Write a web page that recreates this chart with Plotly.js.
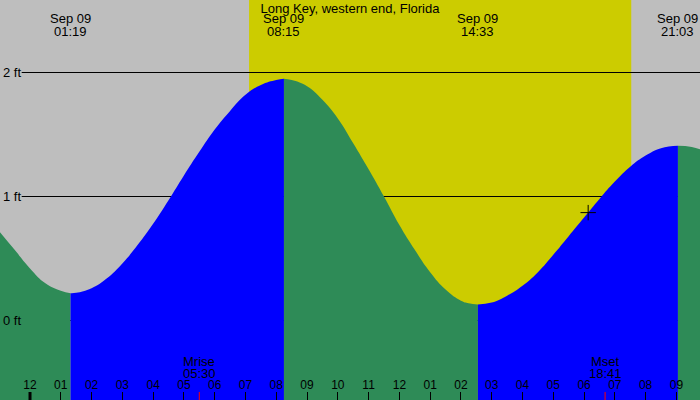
<!DOCTYPE html>
<html>
<head>
<meta charset="utf-8">
<script src="https://cdn.plot.ly/plotly-3.0.1.min.js"></script>
<style>
  html, body { margin: 0; padding: 0; background: #fff; }
  #plot { width: 700px; height: 400px; }
</style>
</head>
<body>
<div id="plot"></div>
<script>
// tide height (ft), every half hour plus the turning points
const tideTimes = [
    '2024-09-08 23:00', '2024-09-08 23:30', '2024-09-09 00:00', '2024-09-09 00:30',
    '2024-09-09 01:00', '2024-09-09 01:19', '2024-09-09 01:30', '2024-09-09 02:00',
    '2024-09-09 02:30', '2024-09-09 03:00', '2024-09-09 03:30', '2024-09-09 04:00',
    '2024-09-09 04:30', '2024-09-09 05:00', '2024-09-09 05:30', '2024-09-09 06:00',
    '2024-09-09 06:30', '2024-09-09 07:00', '2024-09-09 07:30', '2024-09-09 08:00',
    '2024-09-09 08:15', '2024-09-09 08:30', '2024-09-09 09:00', '2024-09-09 09:30',
    '2024-09-09 10:00', '2024-09-09 10:30', '2024-09-09 11:00', '2024-09-09 11:30',
    '2024-09-09 12:00', '2024-09-09 12:30', '2024-09-09 13:00', '2024-09-09 13:30',
    '2024-09-09 14:00', '2024-09-09 14:15', '2024-09-09 14:33', '2024-09-09 15:00',
    '2024-09-09 15:30', '2024-09-09 16:00', '2024-09-09 16:30', '2024-09-09 17:00',
    '2024-09-09 17:30', '2024-09-09 18:00', '2024-09-09 18:30', '2024-09-09 19:00',
    '2024-09-09 19:30', '2024-09-09 20:00', '2024-09-09 20:30', '2024-09-09 21:03',
    '2024-09-09 21:30', '2024-09-09 22:00'
];
const tideHeights = [
    0.72, 0.57, 0.42, 0.30,
    0.24, 0.22, 0.223, 0.26,
    0.34, 0.46, 0.61, 0.78,
    0.97, 1.17, 1.36, 1.54,
    1.69, 1.82, 1.90, 1.94,
    1.95, 1.94, 1.89, 1.78,
    1.63, 1.43, 1.22, 1.00,
    0.77, 0.57, 0.39, 0.25,
    0.16, 0.14, 0.13, 0.145,
    0.20, 0.28, 0.39, 0.53,
    0.68, 0.83, 0.98, 1.12,
    1.24, 1.33, 1.39, 1.41,
    1.40, 1.36
];

// high / low water labels along the top
const extremeTimes = ['2024-09-09 01:19', '2024-09-09 08:15', '2024-09-09 14:33', '2024-09-09 21:03'];
const extremeDates = ['Sep 09', 'Sep 09', 'Sep 09', 'Sep 09'];
const extremeClock = ['01:19', '08:15', '14:33', '21:03'];

const sunrise = '2024-09-09 07:07';
const sunset = '2024-09-09 19:32';

const moonTimes = ['2024-09-09 05:30', '2024-09-09 18:41'];
const moonNames = ['Mrise', 'Mset'];
const moonClock = ['05:30', '18:41'];

const nowTime = '2024-09-09 18:08';
const nowHeight = 0.87;

const levelVals = [0, 1, 2];
const levelText = ['0 ft', '1 ft', '2 ft'];

const stationName = 'Long Key, western end, Florida';

const xRange = ['2024-09-08 23:01:30', '2024-09-09 21:46'];
const yRange = [-0.6411, 2.5847];

const RISING = '#0000ff';
const FALLING = '#2e8b57';
const NIGHT = '#bebebe';
const DAY = '#cccc00';
const FONT = 'Liberation Sans, Arial, sans-serif';

// cut the curve at every turning point so each rise/fall gets its own colour
const traces = [];
let cuts = [0];
extremeTimes.forEach(t => {
    const i = tideTimes.indexOf(t);
    if (i > 0) cuts.push(i);
});
cuts.push(tideTimes.length - 1);

for (let s = 0; s < cuts.length - 1; s++) {
    const xs = tideTimes.slice(cuts[s], cuts[s + 1] + 1);
    const ys = tideHeights.slice(cuts[s], cuts[s + 1] + 1);
    const rising = ys[ys.length - 1] > ys[0];
    // floor under the segment, below the visible range
    traces.push({
        x: [xs[0], xs[xs.length - 1]],
        y: [yRange[0] - 1, yRange[0] - 1],
        mode: 'lines', line: { width: 0 }, hoverinfo: 'skip', showlegend: false
    });
    traces.push({
        x: xs, y: ys,
        mode: 'lines',
        line: { width: 0, shape: 'spline', smoothing: 1.3 },
        fill: 'tonexty',
        fillcolor: rising ? RISING : FALLING,
        hoverinfo: 'skip', showlegend: false
    });
}

traces.push({
    x: [nowTime], y: [nowHeight],
    mode: 'markers',
    marker: { symbol: 'cross-thin', size: 11, line: { color: '#000', width: 1 } },
    hoverinfo: 'skip', showlegend: false
});

const shapes = [
    { type: 'rect', xref: 'x', yref: 'paper', x0: sunrise, x1: sunset, y0: 0, y1: 1,
      fillcolor: DAY, line: { width: 0 }, layer: 'below' }
];
levelVals.forEach(v => {
    shapes.push({ type: 'line', xref: 'paper', yref: 'y', x0: 0.031, x1: 1, y0: v, y1: v,
                  line: { color: '#000', width: 1 }, layer: 'below' });
});
// midnight gets a heavier tick
shapes.push({ type: 'line', xref: 'x', yref: 'paper', x0: '2024-09-09 00:00', x1: '2024-09-09 00:00',
              y0: 0, y1: 0.02, line: { color: '#000', width: 3 } });
moonTimes.forEach(t => {
    shapes.push({ type: 'line', xref: 'x', yref: 'paper', x0: t, x1: t, y0: 0, y1: 0.02,
                  line: { color: '#ff0000', width: 1 } });
});

const annotations = [];
extremeTimes.forEach((t, i) => {
    annotations.push({ x: t, xref: 'x', y: 1 - 19 / 400, yref: 'paper', text: extremeDates[i],
                       showarrow: false, xanchor: 'center', yanchor: 'middle' });
    annotations.push({ x: t, xref: 'x', y: 1 - 31 / 400, yref: 'paper', text: extremeClock[i],
                       showarrow: false, xanchor: 'center', yanchor: 'middle' });
});
moonTimes.forEach((t, i) => {
    annotations.push({ x: t, xref: 'x', y: 39 / 400, yref: 'paper', text: moonNames[i],
                       showarrow: false, xanchor: 'center', yanchor: 'middle' });
    annotations.push({ x: t, xref: 'x', y: 27 / 400, yref: 'paper', text: moonClock[i],
                       showarrow: false, xanchor: 'center', yanchor: 'middle' });
});

const layout = {
    width: 700, height: 400,
    margin: { l: 0, r: 0, t: 0, b: 0 },
    paper_bgcolor: NIGHT,
    plot_bgcolor: NIGHT,
    font: { family: FONT, size: 13, color: '#000' },
    title: { text: stationName, x: 0.5, xanchor: 'center', y: 1 - 8 / 400, yanchor: 'middle',
             font: { family: FONT, size: 13, color: '#000' } },
    showlegend: false,
    xaxis: {
        type: 'date', range: xRange,
        tick0: '2024-09-09 00:00', dtick: 3600000, tickformat: '%I',
        ticks: 'inside', ticklen: 8, tickwidth: 1, tickcolor: '#000',
        ticklabelposition: 'inside',
        tickfont: { family: FONT, size: 12, color: '#000' },
        showgrid: false, zeroline: false, showline: false, fixedrange: true
    },
    yaxis: {
        range: yRange,
        tickvals: levelVals, ticktext: levelText,
        ticks: '', ticklabelposition: 'inside',
        tickfont: { family: FONT, size: 13, color: '#000' },
        showgrid: false, zeroline: false, showline: false, fixedrange: true
    },
    shapes: shapes,
    annotations: annotations,
    hovermode: false
};

Plotly.newPlot('plot', traces, layout, { displayModeBar: false, staticPlot: true });
</script>
</body>
</html>
